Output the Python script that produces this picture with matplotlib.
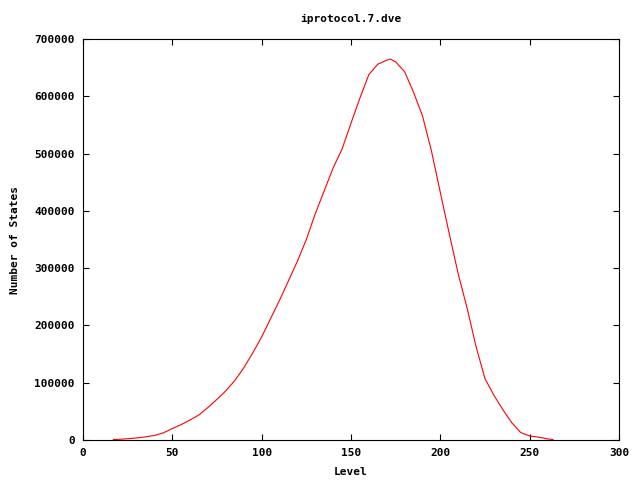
import matplotlib
matplotlib.use("Agg")
import matplotlib.pyplot as plt

levels = [17, 20, 25, 30, 35, 40, 45, 50, 55, 60, 65, 70, 75, 80, 85, 90, 95,
          100, 105, 110, 115, 120, 125, 130, 135, 140, 145, 150, 155, 160, 165,
          170, 172, 175, 180, 185, 190, 195, 200, 205, 210, 215, 220, 225, 230,
          235, 240, 245, 250, 255, 260, 263]
states = [800, 1200, 2200, 3500, 5500, 8000, 12500, 20000, 27000, 35000, 44000,
          57000, 71000, 86000, 104000, 126000, 152000, 180000, 212000, 244000,
          278000, 312000, 350000, 395000, 435000, 475000, 508000, 553000, 597000,
          638000, 656000, 663000, 665000, 660000, 643000, 607000, 566000, 505000,
          432000, 360000, 290000, 230000, 163000, 107000, 78000, 53000, 30000,
          13000, 7000, 5000, 2000, 800]

x_ticks = [0, 50, 100, 150, 200, 250, 300]
y_ticks = [0, 100000, 200000, 300000, 400000, 500000, 600000, 700000]

font = {"family": "DejaVu Sans Mono", "weight": "bold", "size": 8}

fig = plt.figure(figsize=(6.4, 4.8), dpi=100)
ax = fig.add_axes([83 / 640, 40 / 480, 536 / 640, 401 / 480])
ax.plot(levels, states, color="#ff0000", linewidth=0.8)

ax.set_xlim(0, 300)
ax.set_ylim(0, 700000)
ax.set_xticks(x_ticks)
ax.set_yticks(y_ticks)
ax.set_xticklabels([str(t) for t in x_ticks], fontdict=font)
ax.set_yticklabels([str(t) for t in y_ticks], fontdict=font)
ax.tick_params(direction="in", length=4, width=0.8, top=True, right=True, pad=6)
for s in ax.spines.values():
    s.set_linewidth(0.8)

ax.set_title("iprotocol.7.dve", fontdict=font, pad=12)
ax.set_xlabel("Level", fontdict=font, labelpad=6)
ax.set_ylabel("Number of States", fontdict=font, labelpad=10)

fig.savefig("out.png", dpi=100)
